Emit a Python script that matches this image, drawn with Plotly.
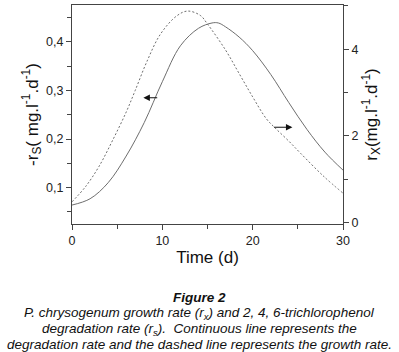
import plotly.graph_objects as go

# Degradation rate -rS (left axis), continuous line
t_solid = [0, 2, 4, 6, 8, 10, 12, 14, 15.5, 16.2, 17, 18.5, 20, 22, 24, 26, 28, 30]
rs_solid = [0.064, 0.077, 0.110, 0.165, 0.234, 0.318, 0.392, 0.428, 0.439, 0.439,
            0.431, 0.410, 0.382, 0.333, 0.275, 0.220, 0.173, 0.136]

# Growth rate rX (right axis), dashed line
t_dash = [0, 1.5, 3, 4.5, 6, 7, 8.3, 9.8, 11.6, 12.8, 14.2, 15, 17, 18.5, 20,
          21.5, 22.5, 24, 25.3, 27.9, 30]
rx_dash = [0.48, 0.83, 1.30, 1.90, 2.55, 3.05, 3.72, 4.35, 4.77, 4.88, 4.78, 4.58,
           3.98, 3.44, 2.90, 2.40, 2.18, 1.88, 1.60, 1.06, 0.68]

x_ticks = [0, 10, 20, 30]
left_ticks = [0.1, 0.2, 0.3, 0.4]
right_ticks = [0, 2, 4]

FONT = "Arial, Liberation Sans, sans-serif"
AX = "#444444"
LINE = "#6e6e6e"

fig = go.Figure()
fig.add_trace(go.Scatter(x=t_solid, y=rs_solid, mode="lines", line_shape="spline",
                         line=dict(color=LINE, width=1), yaxis="y", showlegend=False))
fig.add_trace(go.Scatter(x=t_dash, y=rx_dash, mode="lines", line_shape="spline",
                         line=dict(color=LINE, width=1, dash="2px,2px"), yaxis="y2",
                         showlegend=False))

axis_common = dict(showgrid=False, zeroline=False, showline=True, linecolor=AX,
                   linewidth=1.2, ticks="outside", ticklen=5, tickcolor=AX,
                   tickfont=dict(family=FONT, size=12.5, color="#222"))

fig.update_layout(
    width=399, height=352,
    margin=dict(l=72, r=56, t=5, b=128),
    paper_bgcolor="white", plot_bgcolor="white",
    separators=",.",
    xaxis=dict(range=[0, 30], tickvals=x_ticks, mirror=True,
               minor=dict(ticks="outside", dtick=5, ticklen=4, tickcolor=AX),
               title=dict(text="Time (d)", font=dict(family=FONT, size=17, color="#111"),
                          standoff=4),
               **axis_common),
    yaxis=dict(range=[0.025, 0.476], tickvals=left_ticks, tickformat=".1f",
               minor=dict(ticks="outside", dtick=0.05, tick0=0, ticklen=4, tickcolor=AX),
               title=dict(text="-r<sub>S</sub>( mg.l<sup>-1</sup>.d<sup>-1</sup>)",
                          font=dict(family=FONT, size=17, color="#111"), standoff=3),
               **axis_common),
    yaxis2=dict(range=[-0.032, 5.02], tickvals=right_ticks, overlaying="y", side="right",
                minor=dict(ticks="outside", dtick=1, tick0=0, ticklen=4, tickcolor=AX),
                title=dict(text="r<sub>X</sub>(mg.l<sup>-1</sup>.d<sup>-1</sup>)",
                           font=dict(family=FONT, size=17, color="#111"), standoff=4),
                **axis_common),
)

# arrows pointing to the axis each curve belongs to
fig.add_annotation(x=7.9, y=0.285, ax=9.6, ay=0.285, xref="x", yref="y", axref="x",
                   ayref="y", showarrow=True, arrowhead=2, arrowsize=1.3, arrowwidth=1,
                   arrowcolor="#111", text="")
fig.add_annotation(x=24.4, y=2.20, ax=22.2, ay=2.20, xref="x", yref="y2", axref="x",
                   ayref="y2", showarrow=True, arrowhead=2, arrowsize=1.3, arrowwidth=1,
                   arrowcolor="#111", text="")

# caption
cap_x = 0.469
captions = [
    ("<b><i>Figure 2</i></b>", 297.5, 13.5),
    ("<i>P. chrysogenum growth rate (r<sub>x</sub>) and 2, 4, 6-trichlorophenol</i>", 314, 13.5),
    ("<i>degradation rate (r<sub>s</sub>).&nbsp; Continuous line represents the</i>", 330, 13.5),
    ("<i>degradation rate and the dashed line represents the growth rate.</i>", 344, 13.5),
]
plot_h = 352 - 5 - 128
for txt, ypix, size in captions:
    fig.add_annotation(text=txt, x=cap_x, y=(224 - ypix) / plot_h, xref="paper",
                       yref="paper", showarrow=False, xanchor="center", yanchor="middle",
                       font=dict(family=FONT, size=size, color="#111"))

fig.write_html("out.html", config={"displayModeBar": False},
               post_script="document.body.style.margin='0';document.body.style.padding='0';")
